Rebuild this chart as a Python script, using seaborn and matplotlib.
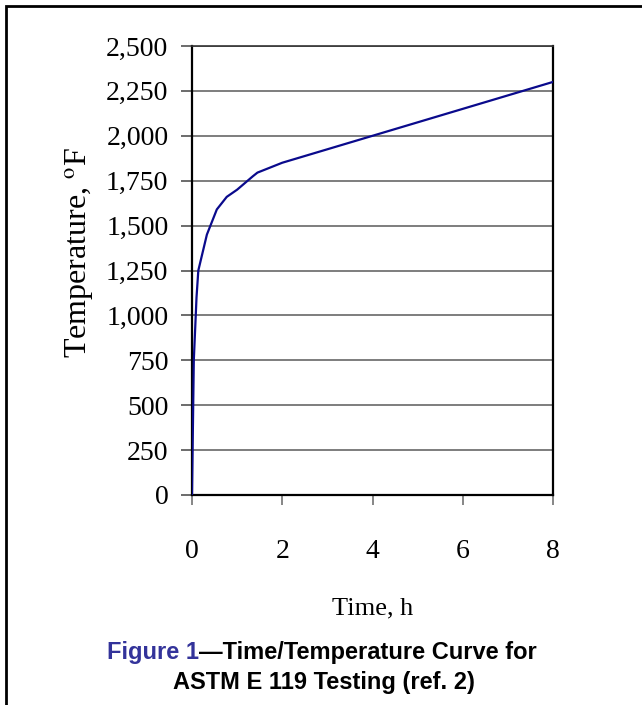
import matplotlib
matplotlib.use("Agg")
import matplotlib.pyplot as plt
import matplotlib.ticker as mticker
from matplotlib.patches import Rectangle
import pandas as pd
import seaborn as sns

# ASTM E 119 standard time/temperature curve
time_h = [0, 0.04, 0.083, 0.10, 0.14, 0.33, 0.55, 0.77, 1.0, 1.35, 1.45, 2.0, 3.0, 4.0, 5.4, 8.0]
temp_f = [0, 750, 1000, 1100, 1250, 1450, 1590, 1660, 1700, 1775, 1795, 1850, 1925, 2000, 2105, 2300]
y_ticks = list(range(0, 2501, 250))
x_ticks = [0, 2, 4, 6, 8]

df = pd.DataFrame({"Time": time_h, "Temp": temp_f})

sns.set_style("white")
plt.rcParams["font.family"] = ["Liberation Serif", "DejaVu Serif"]
plt.rcParams["mathtext.fontset"] = "stix"
plt.rcParams["text.color"] = "black"
plt.rcParams["axes.labelcolor"] = "black"
plt.rcParams["xtick.labelcolor"] = "black"
plt.rcParams["ytick.labelcolor"] = "black"

fig = plt.figure(figsize=(6.42, 7.05), dpi=100)
ax = fig.add_axes([192 / 642, 1 - 495 / 705, 361 / 642, 449 / 705])

for y in y_ticks[1:]:
    ax.axhline(y, color="#5a5a5a", lw=1.1, zorder=1)

sns.lineplot(data=df, x="Time", y="Temp", color="#0a0a8c", lw=1.6, ax=ax, zorder=3)

ax.set_xlim(0, 8)
ax.set_ylim(0, 2500)
ax.set_xticks(x_ticks)
ax.set_yticks(y_ticks)
ax.yaxis.set_major_formatter(mticker.FuncFormatter(lambda v, p: f"{int(v):,}"))

ax.tick_params(axis="y", direction="out", length=8, width=1.1, color="#444444",
               labelsize=20, pad=9, left=True)
ax.tick_params(axis="x", direction="out", length=7, width=1.1, color="#666666",
               labelsize=20, pad=25, bottom=True)

for side, sp in ax.spines.items():
    sp.set_color("black")
    sp.set_linewidth(1.6)
ax.spines["top"].set_color("#333333")
ax.spines["top"].set_linewidth(1.2)

ax.set_xlabel("Time, h", fontsize=19, labelpad=24)
ax.set_ylabel("Temperature, $^{\\mathrm{o}}$F", fontsize=23, labelpad=8)
ax.yaxis.set_label_coords(-0.265, 0.54)

# figure frame (only left and top edges are visible in the picture)
fig.patches.append(Rectangle((6 / 642, -0.5), 2, 1.5 - 6 / 705, transform=fig.transFigure,
                             fill=False, ec="black", lw=2.0, clip_on=False))

cap = dict(fontsize=17, fontweight="bold", family=["Liberation Sans", "DejaVu Sans"])
fig.text(199 / 642, 1 - 652 / 705, "Figure 1", ha="right", va="center", color="#33339a", **cap)
fig.text(199 / 642, 1 - 652 / 705, "\u2014Time/Temperature Curve for", ha="left", va="center",
         color="black", **cap)
fig.text(324 / 642, 1 - 682 / 705, "ASTM E 119 Testing (ref. 2)", ha="center", va="center",
         color="black", **cap)

fig.savefig("out.png", dpi=100)
